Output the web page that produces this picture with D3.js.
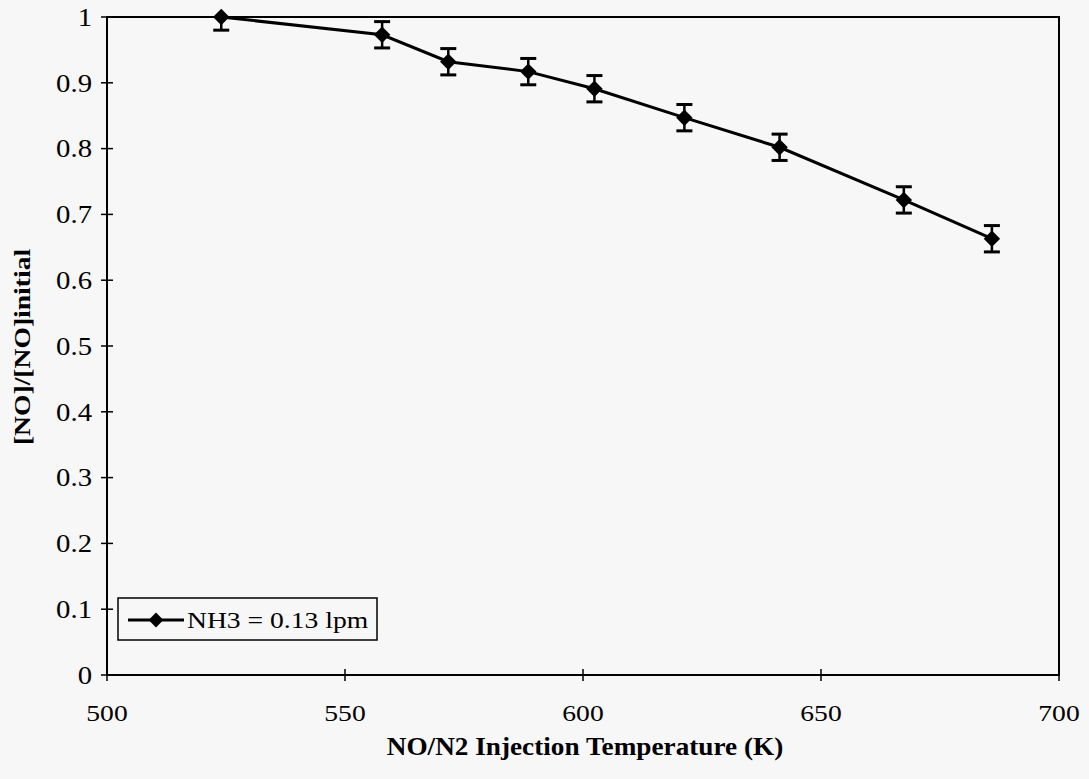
<!DOCTYPE html>
<html>
<head>
<meta charset="utf-8">
<script src="https://cdn.jsdelivr.net/npm/d3@7"></script>
<style>
  body { margin: 0; background: #f7f7f7; }
  svg { display: block; font-family: "Liberation Serif", "Times New Roman", serif; }
</style>
</head>
<body>
<script>
// values
const temperatures = [524, 557.8, 571.7, 588.5, 602.4, 621.3, 641.3, 667.4, 685.9];
const noRatio = [1.0, 0.973, 0.932, 0.917, 0.891, 0.847, 0.802, 0.722, 0.663];
const errorHalf = [0.02, 0.02, 0.02, 0.02, 0.02, 0.02, 0.02, 0.02, 0.02];
const xTicks = [500, 550, 600, 650, 700];
const yTicks = [0, 0.1, 0.2, 0.3, 0.4, 0.5, 0.6, 0.7, 0.8, 0.9, 1];
const seriesName = "NH3 = 0.13 lpm";

const width = 1089, height = 779;
const margin = { left: 107, right: 1059, top: 17, bottom: 675 };
const stretch = 1.15; // the scanned text is a bit wide

const points = temperatures.map((t, i) => ({ t, v: noRatio[i], e: errorHalf[i] }));

const x = d3.scaleLinear().domain([500, 700]).range([margin.left, margin.right]);
const y = d3.scaleLinear().domain([0, 1]).range([margin.bottom, margin.top]);

const svg = d3.select("body").append("svg")
  .attr("width", width)
  .attr("height", height);

svg.append("clipPath").attr("id", "plot-clip")
  .append("rect")
  .attr("x", margin.left).attr("y", margin.top)
  .attr("width", margin.right - margin.left)
  .attr("height", margin.bottom - margin.top);

// plot frame
svg.append("rect")
  .attr("x", margin.left)
  .attr("y", margin.top)
  .attr("width", margin.right - margin.left)
  .attr("height", margin.bottom - margin.top)
  .attr("fill", "none")
  .attr("stroke", "#000")
  .attr("stroke-width", 2);

// y axis: cross ticks
const yAxis = svg.append("g").attr("transform", `translate(${margin.left},0)`);
yAxis.selectAll("line")
  .data(yTicks)
  .join("line")
  .attr("x1", -6).attr("x2", 6)
  .attr("y1", d => y(d)).attr("y2", d => y(d))
  .attr("stroke", "#000").attr("stroke-width", 1.5);
yAxis.selectAll("text")
  .data(yTicks)
  .join("text")
  .attr("transform", d => `translate(-15,${y(d)}) scale(${stretch},1)`)
  .attr("dy", "0.35em")
  .attr("text-anchor", "end")
  .attr("font-size", 25)
  .text(d => d3.format("")(d));

// x axis: cross ticks
const xAxis = svg.append("g").attr("transform", `translate(0,${margin.bottom})`);
xAxis.selectAll("line")
  .data(xTicks)
  .join("line")
  .attr("x1", d => x(d)).attr("x2", d => x(d))
  .attr("y1", -6).attr("y2", 6)
  .attr("stroke", "#000").attr("stroke-width", 1.5);
xAxis.selectAll("text")
  .data(xTicks)
  .join("text")
  .attr("transform", d => `translate(${x(d)},46) scale(${stretch},1)`)
  .attr("text-anchor", "middle")
  .attr("font-size", 24)
  .text(d => d);

// axis titles
svg.append("text")
  .attr("transform", `translate(${(margin.left + margin.right) / 2 + 2},755) scale(1.09,1)`)
  .attr("text-anchor", "middle")
  .attr("font-size", 25)
  .attr("font-weight", "bold")
  .text("NO/N2 Injection Temperature (K)");

svg.append("text")
  .attr("transform", `translate(30,347) rotate(-90) scale(${stretch},1)`)
  .attr("text-anchor", "middle")
  .attr("font-size", 24)
  .attr("font-weight", "bold")
  .text("[NO]/[NO]initial");

// line
svg.append("path")
  .datum(points)
  .attr("fill", "none")
  .attr("stroke", "#000")
  .attr("stroke-width", 3)
  .attr("d", d3.line().x(d => x(d.t)).y(d => y(d.v)));

// error bars, clipped at the plot frame
const err = svg.append("g")
  .attr("clip-path", "url(#plot-clip)")
  .selectAll("g")
  .data(points)
  .join("g")
  .attr("stroke", "#000");
err.append("line")
  .attr("x1", d => x(d.t)).attr("x2", d => x(d.t))
  .attr("y1", d => y(d.v + d.e)).attr("y2", d => y(d.v - d.e))
  .attr("stroke-width", 2.5);
err.selectAll("line.cap")
  .data(d => [[d.t, d.v + d.e], [d.t, d.v - d.e]])
  .join("line")
  .attr("class", "cap")
  .attr("x1", d => x(d[0]) - 8).attr("x2", d => x(d[0]) + 8)
  .attr("y1", d => y(d[1])).attr("y2", d => y(d[1]))
  .attr("stroke-width", 3);

// diamond markers
svg.append("g").selectAll("path")
  .data(points)
  .join("path")
  .attr("transform", d => `translate(${x(d.t)},${y(d.v)}) rotate(45)`)
  .attr("d", d3.symbol().type(d3.symbolSquare).size(135))
  .attr("fill", "#000");

// legend
const legend = svg.append("g").attr("transform", "translate(118,598)");
legend.append("rect")
  .attr("width", 259).attr("height", 42)
  .attr("fill", "#f7f7f7")
  .attr("stroke", "#000").attr("stroke-width", 1.5);
legend.append("line")
  .attr("x1", 10).attr("x2", 66)
  .attr("y1", 22).attr("y2", 22)
  .attr("stroke", "#000").attr("stroke-width", 3);
legend.append("path")
  .attr("transform", "translate(38,22) rotate(45)")
  .attr("d", d3.symbol().type(d3.symbolSquare).size(110))
  .attr("fill", "#000");
legend.append("text")
  .attr("transform", `translate(69,22) scale(${stretch},1)`)
  .attr("dy", "0.35em")
  .attr("font-size", 24)
  .text(seriesName);
</script>
</body>
</html>
